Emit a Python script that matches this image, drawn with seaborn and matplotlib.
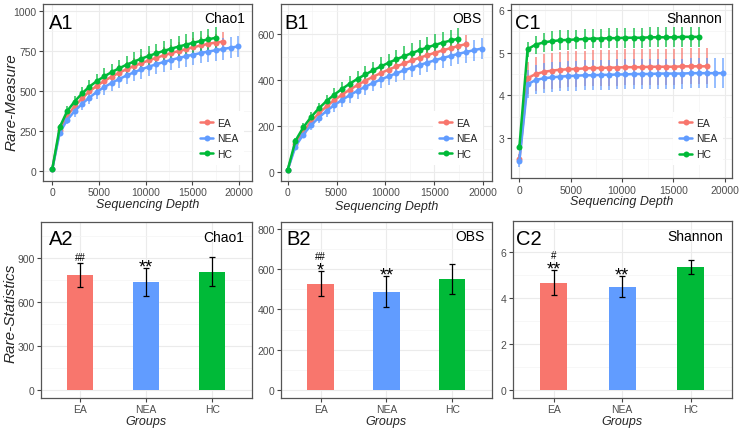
import matplotlib
matplotlib.use("Agg")
import matplotlib.pyplot as plt
from matplotlib.lines import Line2D
from matplotlib.ticker import MultipleLocator, FixedLocator
import numpy as np
import pandas as pd
import seaborn as sns

# ---------------- data ----------------
groups = ["EA", "NEA", "HC"]
colors = ["#F8766D", "#619CFF", "#00BA38"]

depth = [0, 795, 1590, 2385, 3180, 3975, 4770, 5565, 6360, 7155, 7950, 8745, 9540,
         10335, 11130, 11925, 12720, 13515, 14310, 15105, 15900, 16695, 17490,
         18285, 19080, 19875]

chao1_EA = [15, 255, 345, 405, 455, 498, 533, 563, 590, 614, 636, 656, 674, 691, 707,
            722, 736, 749, 761, 773, 784, 794, 802, 808]
chao1_NEA = [15, 240, 320, 375, 420, 460, 495, 525, 551, 575, 597, 617, 635, 652, 667,
             681, 694, 706, 717, 727, 737, 746, 754, 762, 770, 778]
chao1_HC = [15, 275, 375, 435, 485, 528, 562, 592, 618, 642, 664, 684, 702, 719, 735,
            750, 764, 777, 789, 801, 812, 822, 832]
chao1_EA_sd = [5, 16, 25, 30, 34, 37, 40, 42, 44, 46, 47, 48, 49, 50, 51, 52, 53, 54,
               54, 55, 55, 56, 56, 57]
chao1_NEA_sd = [5, 18, 28, 34, 39, 43, 46, 49, 51, 53, 55, 57, 58, 59, 60, 61, 62, 63,
                64, 65, 65, 66, 66, 67, 67, 67]
chao1_HC_sd = [5, 20, 30, 36, 40, 44, 47, 50, 52, 54, 55, 57, 58, 59, 60, 61, 62, 63,
               64, 65, 65, 66, 66]

obs_EA = [8, 120, 175, 218, 254, 285, 312, 336, 358, 378, 397, 414, 430, 445, 459, 472,
          485, 497, 508, 519, 529, 539, 548, 557]
obs_NEA = [8, 110, 162, 202, 236, 265, 290, 313, 334, 353, 371, 387, 402, 416, 429, 442,
           454, 465, 476, 486, 496, 505, 514, 522, 530, 537]
obs_HC = [8, 135, 193, 238, 276, 308, 336, 361, 384, 405, 424, 442, 459, 475, 490, 504,
          517, 530, 542, 553, 563, 572, 580]
obs_EA_sd = [3, 10, 15, 19, 22, 24, 26, 28, 29, 31, 32, 33, 34, 35, 36, 36, 37, 38, 38,
             39, 39, 40, 40, 41]
obs_NEA_sd = [3, 11, 17, 21, 24, 27, 29, 31, 33, 34, 36, 37, 38, 39, 40, 41, 42, 42, 43,
              44, 44, 45, 45, 46, 46, 47]
obs_HC_sd = [3, 12, 18, 22, 25, 28, 30, 32, 34, 35, 37, 38, 39, 40, 41, 42, 43, 44, 45,
             46, 46, 47, 48]

shannon_EA = [2.50, 4.40, 4.50, 4.55, 4.58, 4.60, 4.61, 4.62, 4.63, 4.64, 4.64, 4.65,
              4.65, 4.66, 4.66, 4.66, 4.67, 4.67, 4.67, 4.67, 4.68, 4.68, 4.68, 4.68]
shannon_NEA = [2.47, 4.26, 4.36, 4.40, 4.42, 4.44, 4.45, 4.46, 4.47, 4.47, 4.48, 4.48,
               4.49, 4.49, 4.50, 4.50, 4.50, 4.51, 4.51, 4.51, 4.51, 4.52, 4.52, 4.52,
               4.52, 4.52]
shannon_HC = [2.80, 5.08, 5.19, 5.24, 5.27, 5.29, 5.30, 5.31, 5.32, 5.33, 5.33, 5.34,
              5.34, 5.35, 5.35, 5.35, 5.36, 5.36, 5.36, 5.36, 5.37, 5.37, 5.37]
shannon_EA_sd = [0.10, 0.38, 0.40, 0.41, 0.42, 0.42, 0.42, 0.42, 0.42, 0.42, 0.42, 0.42,
                 0.42, 0.42, 0.42, 0.42, 0.42, 0.42, 0.42, 0.42, 0.42, 0.42, 0.42, 0.42]
shannon_NEA_sd = [0.15, 0.33, 0.34, 0.35, 0.35, 0.35, 0.35, 0.35, 0.35, 0.35, 0.35, 0.35,
                  0.35, 0.35, 0.35, 0.35, 0.35, 0.35, 0.35, 0.35, 0.35, 0.35, 0.35, 0.35,
                  0.35, 0.35]
shannon_HC_sd = [0.05, 0.18, 0.21, 0.22, 0.23, 0.23, 0.23, 0.23, 0.23, 0.23, 0.23, 0.23,
                 0.23, 0.23, 0.23, 0.23, 0.23, 0.23, 0.23, 0.23, 0.23, 0.23, 0.23]

chao1_mean = [785, 738, 808]
chao1_sd = [80, 95, 100]
obs_mean = [527, 488, 552]
obs_sd = [62, 78, 75]
shannon_mean = [4.67, 4.50, 5.36]
shannon_sd = [0.54, 0.46, 0.31]

sig_chao1 = [["##"], ["**"], []]
sig_obs = [["*", "##"], ["**"], []]
sig_shannon = [["**", "#"], ["**"], []]

depth_ticks = [0, 5000, 10000, 15000, 20000]

# ---------------- style ----------------
sns.set_theme(style="white")
plt.rcParams["font.family"] = ["Liberation Sans", "DejaVu Sans"]

W, H = 739, 431
fig = plt.figure(figsize=(W / 100, H / 100), dpi=100)


def add_ax(l, t, r, b):
    return fig.add_axes([l / W, 1 - b / H, (r - l) / W, (b - t) / H])


GRID_MAJ = "#EBEBEB"
GRID_MIN = "#F4F4F4"
LW = 1.8
MS = 4.3


def style_ax(ax):
    ax.set_facecolor("white")
    for s in ax.spines.values():
        s.set_color("#555555")
        s.set_linewidth(0.9)
        s.set_visible(True)
    ax.set_axisbelow(True)
    ax.grid(which="major", color=GRID_MAJ, lw=0.8)
    ax.grid(which="minor", color=GRID_MIN, lw=0.5)
    ax.tick_params(axis="both", which="major", length=3, width=0.8, color="#444444",
                   labelcolor="#4D4D4D", labelsize=7.5, pad=1.5,
                   bottom=True, left=True)
    ax.tick_params(axis="both", which="minor", length=0)


def panel_text(ax, lab, title, lpx, tpx, rpx, ttpx, panel):
    l, t, r, b = panel
    wpx, hpx = r - l, b - t
    ax.text(lpx / wpx, 1 - tpx / hpx, lab, transform=ax.transAxes, fontsize=14.5,
            ha="left", va="top", color="black")
    ax.text(1 - rpx / wpx, 1 - ttpx / hpx, title, transform=ax.transAxes, fontsize=10,
            ha="right", va="top", color="black")


def curve_panel(panel, series, sds, xlim, ylim, ymaj, ymin, lab, title, legpos, lab_off,
                xlabpad):
    ax = add_ax(*panel)
    rows = []
    for g, vals, ss in zip(groups, series, sds):
        for d, v, s in zip(depth, vals, ss):
            rows.append((g, d, v, s))
    df = pd.DataFrame(rows, columns=["group", "depth", "value", "sd"])
    for g, c in zip(groups, colors):
        sub = df[df.group == g]
        ax.vlines(sub.depth, sub.value - sub.sd, sub.value + sub.sd, color=c,
                  lw=1.1, alpha=0.85, zorder=2)
    sns.lineplot(data=df, x="depth", y="value", hue="group", hue_order=groups,
                 palette=colors, marker="o", markersize=MS, markeredgewidth=0,
                 linewidth=LW, estimator=None, sort=False, ax=ax, legend=False,
                 zorder=3)
    style_ax(ax)
    ax.set_xlim(*xlim)
    ax.set_ylim(*ylim)
    ax.xaxis.set_major_locator(FixedLocator(depth_ticks))
    ax.xaxis.set_minor_locator(MultipleLocator(2500))
    ax.yaxis.set_major_locator(MultipleLocator(ymaj))
    ax.yaxis.set_minor_locator(MultipleLocator(ymin))
    if ymaj < 10:
        ax.yaxis.set_major_formatter(plt.FuncFormatter(lambda v, p: f"{v:g}"))
    ax.set_ylabel("")
    ax.set_xlabel("Sequencing Depth", fontsize=9, style="italic", labelpad=xlabpad)
    panel_text(ax, lab, title, *lab_off, panel)
    handles = [Line2D([], [], color=c, lw=LW, marker="o", markersize=MS,
                      markeredgewidth=0) for c in colors]
    l, t, r, b = panel
    hx, cy = legpos
    fs_px = 7.5 * 100 / 72
    bp = 0.6
    ax.legend(handles, groups, loc="center left",
              bbox_to_anchor=((hx - bp * fs_px - l) / (r - l), 1 - (cy - t) / (b - t)),
              borderaxespad=0, borderpad=bp, fontsize=7.5, handlelength=1.25,
              handletextpad=0.35, labelspacing=0.55, frameon=True, facecolor="white",
              edgecolor="none", framealpha=1, fancybox=False)
    return ax


def bar_panel(panel, means, sdv, ylim, ymaj, ymin, lab, title, sig, lab_off):
    ax = add_ax(*panel)
    df = pd.DataFrame({"group": groups, "value": means, "sd": sdv})
    sns.barplot(data=df, x="group", y="value", hue="group", hue_order=groups,
                order=groups, palette=colors, width=0.4, saturation=1, legend=False,
                ax=ax, edgecolor="none", zorder=2)
    ax.errorbar(range(3), means, yerr=sdv, fmt="none", ecolor="black", elinewidth=0.9,
                capsize=2.2, capthick=0.9, zorder=3)
    style_ax(ax)
    ax.set_xlim(-0.6, 2.6)
    ax.set_ylim(*ylim)
    ax.yaxis.set_major_locator(MultipleLocator(ymaj))
    ax.yaxis.set_minor_locator(MultipleLocator(ymin))
    ax.xaxis.grid(True, which="major", color=GRID_MAJ, lw=0.8)
    ax.set_ylabel("")
    ax.set_xlabel("Groups", fontsize=9, style="italic", labelpad=0.5)
    panel_text(ax, lab, title, *lab_off, panel)
    for i, marks in enumerate(sig):
        top = means[i] + sdv[i]
        for k, s in enumerate(marks):
            center_px = 7 + 9 * k
            if s.startswith("*"):
                fs = 13
                off = center_px - 0.58 * fs * 100 / 72
            else:
                fs = 7
                off = center_px - 0.35 * fs * 100 / 72
            ax.annotate(s, xy=(i, top), xytext=(0, off * 0.72), textcoords="offset points",
                        ha="center", va="baseline", fontsize=fs, color="black")
    return ax


# ---------------- panels ----------------
A1 = (43, 4.7, 252, 181.7)
B1 = (281, 5, 491.7, 181.7)
C1 = (510.7, 5, 731.7, 179.3)
A2 = (40.7, 223.3, 251.7, 399)
B2 = (281, 223.3, 491.7, 399)
C2 = (512.7, 222.3, 731.7, 399)

curve_panel(A1, [chao1_EA, chao1_NEA, chao1_HC], [chao1_EA_sd, chao1_NEA_sd, chao1_HC_sd],
            (-996, 21380), (-58, 1044), 250, 125, "A1", "Chao1", (200, 139.3),
            (6, 9, 7, 7), 0.5)
curve_panel(B1, [obs_EA, obs_NEA, obs_HC], [obs_EA_sd, obs_NEA_sd, obs_HC_sd],
            (-686, 20890), (-39, 731), 200, 100, "B1", "OBS", (439, 139.3),
            (3.3, 9, 9.7, 7), 2)
curve_panel(C1, [shannon_EA, shannon_NEA, shannon_HC],
            [shannon_EA_sd, shannon_NEA_sd, shannon_HC_sd],
            (-850, 20700), (2.056, 6.14), 1, 0.5, "C1", "Shannon", (679, 139.5),
            (4.3, 9, 9.7, 7), 0.5)

bar_panel(A2, chao1_mean, chao1_sd, (-55, 1146), 300, 150, "A2", "Chao1", sig_chao1,
          (8.6, 6.7, 7.4, 7.4))
bar_panel(B2, obs_mean, obs_sd, (-40, 833), 200, 100, "B2", "OBS", sig_obs,
          (5, 6.7, 6.7, 7))
bar_panel(C2, shannon_mean, shannon_sd, (-0.35, 7.35), 2, 1, "C2", "Shannon", sig_shannon,
          (3.3, 7.7, 8.4, 8))

fig.text(11.5 / W, 1 - 102 / H, "Rare-Measure", rotation=90, ha="center", va="center",
         fontsize=11, style="italic")
fig.text(10.8 / W, 1 - 313 / H, "Rare-Statistics", rotation=90, ha="center", va="center",
         fontsize=11, style="italic")

fig.savefig("out.png", dpi=100, facecolor="white")
